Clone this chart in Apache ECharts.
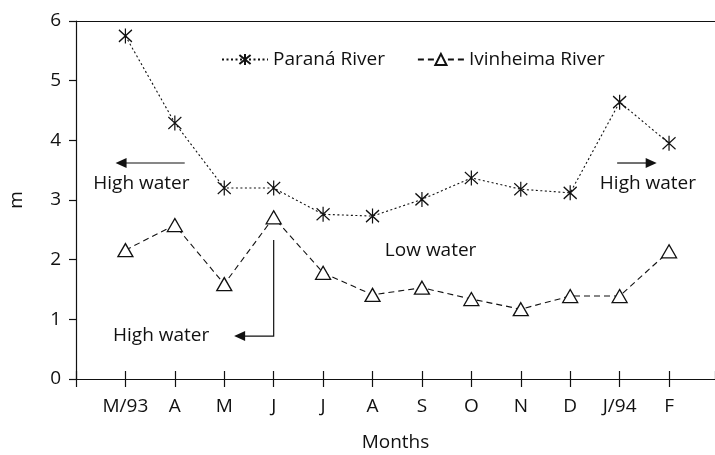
<!DOCTYPE html>
<html>
<head>
<meta charset="utf-8">
<script src="https://cdn.jsdelivr.net/npm/echarts@6/dist/echarts.min.js"></script>
<style>
  html, body { margin: 0; padding: 0; background: #fff; }
  #chart { width: 715px; height: 455px; }
</style>
</head>
<body>
<div id="chart"></div>
<script>
// months along the x axis (placed at 1..12)
const months = ['M/93', 'A', 'M', 'J', 'J', 'A', 'S', 'O', 'N', 'D', 'J/94', 'F'];
// water level (m)
const parana = [5.75, 4.29, 3.2, 3.2, 2.76, 2.73, 3.01, 3.37, 3.18, 3.12, 4.64, 3.95];
const ivinheima = [2.16, 2.58, 1.59, 2.71, 1.78, 1.41, 1.53, 1.34, 1.17, 1.39, 1.39, 2.14];
const yTicks = [0, 1, 2, 3, 4, 5, 6];

const ink = '#111';
const font = '"Open Sans", "Noto Sans", sans-serif';
const fs = 19;
const asterisk = 'path://M0,-10 L0,10 M-7,-8 L7,8 M-7,8 L7,-8';

const toPairs = (arr) => arr.map((v, i) => [i + 1, v]);

const chart = echarts.init(document.getElementById('chart'));

const option = {
  animation: false,
  textStyle: { fontFamily: font, color: ink },
  grid: {
    left: 76,
    right: 0,
    top: 21,
    bottom: 76,
    outerBoundsMode: 'none',
    containLabel: false,
  },
  legend: {
    left: 216,
    top: 45,
    itemWidth: 46,
    itemHeight: 14,
    itemGap: 32,
    textStyle: { fontSize: fs, color: ink, fontFamily: font },
    data: ['Paraná River', 'Ivinheima River'],
  },
  xAxis: [
    {
      type: 'value',
      min: 0,
      max: 12.93,
      interval: 1,
      name: 'Months',
      nameLocation: 'middle',
      nameGap: 54,
      nameTextStyle: { fontSize: fs, color: ink },
      splitLine: { show: false },
      axisLine: { onZero: false, lineStyle: { color: ink, width: 1.2 } },
      axisTick: { length: 8, lineStyle: { color: ink, width: 1.2 } },
      axisLabel: {
        margin: 18,
        fontSize: fs,
        color: ink,
        showMaxLabel: false,
        formatter: (v) => months[v - 1] || '',
      },
    },
    {
      // inner half of the crossing ticks
      type: 'value',
      min: 0,
      max: 12.93,
      interval: 1,
      position: 'bottom',
      splitLine: { show: false },
      axisLine: { show: false, onZero: false },
      axisTick: { inside: true, length: 8, lineStyle: { color: ink, width: 1.2 } },
      axisLabel: { show: false },
    },
    {
      // top frame line
      type: 'value',
      min: 0,
      max: 12.93,
      position: 'top',
      splitLine: { show: false },
      axisLine: { show: true, onZero: false, lineStyle: { color: ink, width: 1.2 } },
      axisTick: { show: false },
      axisLabel: { show: false },
    },
  ],
  yAxis: {
    type: 'value',
    min: 0,
    max: 6,
    interval: 1,
    name: 'm',
    nameLocation: 'middle',
    nameGap: 50,
    nameRotate: 90,
    nameTextStyle: { fontSize: fs, color: ink },
    splitLine: { show: false },
    axisLine: { show: true, lineStyle: { color: ink, width: 1.2 } },
    axisTick: { show: true, length: 7, lineStyle: { color: ink, width: 1.2 } },
    axisLabel: {
      margin: 15,
      fontSize: fs,
      color: ink,
      formatter: (v) => (yTicks.includes(v) ? String(v) : ''),
    },
  },
  series: [
    {
      name: 'Paraná River',
      type: 'line',
      data: toPairs(parana),
      symbol: asterisk,
      symbolSize: [13, 15],
      itemStyle: { color: 'transparent', borderColor: ink, borderWidth: 1.3 },
      lineStyle: { color: ink, width: 1.1, type: [2, 2.5] },
      z: 3,
    },
    {
      name: 'Ivinheima River',
      type: 'line',
      data: toPairs(ivinheima),
      symbol: 'triangle',
      symbolSize: [15, 13],
      itemStyle: { color: '#fff', borderColor: ink, borderWidth: 1.3 },
      lineStyle: { color: ink, width: 1.1, type: [6, 4] },
      z: 3,
    },
  ],
};

chart.setOption(option);

// annotations placed in data coordinates
const px = (x, y) => chart.convertToPixel({ xAxisIndex: 0, yAxisIndex: 0 }, [x, y]);
const txt = (x, y, s) => ({
  type: 'text',
  x, y,
  style: { text: s, font: fs + 'px ' + font, fill: ink, textAlign: 'left', textVerticalAlign: 'middle' },
  z: 10,
});
const arrowHead = (tipX, tipY, dir) => ({
  type: 'polygon',
  shape: { points: [[tipX, tipY], [tipX - dir * 11, tipY - 5], [tipX - dir * 11, tipY + 5]] },
  style: { fill: ink },
  z: 10,
});
const seg = (pts) => ({
  type: 'polyline',
  shape: { points: pts },
  style: { stroke: ink, lineWidth: 1.2, fill: null },
  z: 10,
});

const a1 = px(2.2, 3.62);
const a1b = px(0.8, 3.62);
const t1 = px(0.35, 3.28);
const a2 = px(10.95, 3.62);
const a2b = px(11.75, 3.62);
const t2 = px(10.6, 3.28);
const low = px(6.25, 2.16);
const v1 = px(4, 2.33);
const v2 = px(4, 0.72);
const v3 = px(3.2, 0.72);
const t3 = px(0.75, 0.72);

chart.setOption({
  graphic: [
    seg([a1, [a1b[0] + 10, a1b[1]]]),
    arrowHead(a1b[0], a1b[1], -1),
    txt(t1[0], t1[1], 'High water'),
    seg([a2, [a2b[0] - 10, a2b[1]]]),
    arrowHead(a2b[0], a2b[1], 1),
    txt(t2[0], t2[1], 'High water'),
    txt(low[0], low[1], 'Low water'),
    seg([v1, v2, [v3[0] + 10, v3[1]]]),
    arrowHead(v3[0], v3[1], -1),
    txt(t3[0], t3[1], 'High water'),
  ],
});
</script>
</body>
</html>
